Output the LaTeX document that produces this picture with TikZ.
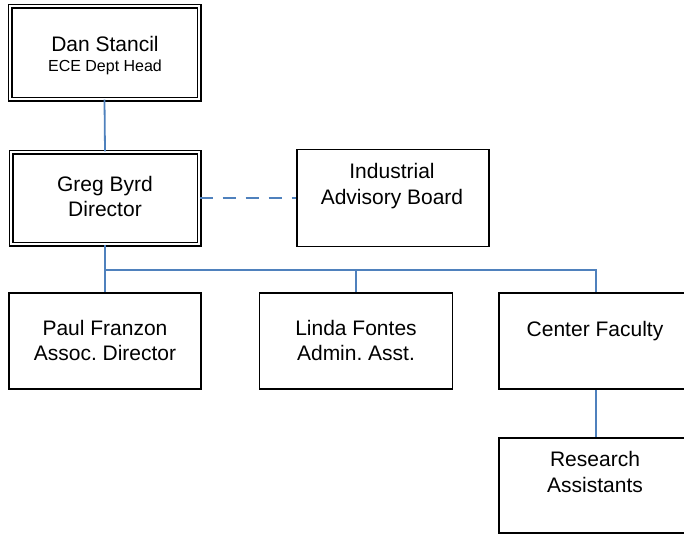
\documentclass[tikz,border=0pt]{standalone}
\usepackage{fontspec}
\setmainfont{Liberation Sans}
\frenchspacing
\definecolor{linkblue}{RGB}{79,129,189}
\begin{document}
\begin{tikzpicture}[x=1pt,y=-1pt,
  box/.style={draw=black,line width=1.5pt,rectangle,inner sep=0pt},
  dbox/.style={draw=black,line width=1.4pt,double,double distance=2.2pt,rectangle,inner sep=0pt},
  txt/.style={anchor=base,inner sep=0pt,font=\fontsize{21}{25}\selectfont},
  small/.style={anchor=base,inner sep=0pt,font=\fontsize{16}{19}\selectfont},
  link/.style={draw=linkblue,line width=1.8pt},
  dlink/.style={draw=linkblue,line width=1.8pt,dash pattern=on 13pt off 10pt}]
\useasboundingbox (0,0) rectangle (684,533);
\clip (0,0) rectangle (684,533);
% boxes
\node[dbox,minimum width=189,minimum height=93] (dan) at (104.5,52.5) {};
\node[dbox,minimum width=188,minimum height=92] (greg) at (105,198) {};
\node[box,minimum width=192,minimum height=97] (iab) at (393,198) {};
\node[box,minimum width=192,minimum height=96] (paul) at (105,341) {};
\node[box,minimum width=193,minimum height=96] (linda) at (356,341) {};
\node[box,minimum width=194,minimum height=96] (cf) at (596,341) {};
\node[box,minimum width=194,minimum height=95] (ra) at (596,485.5) {};
% texts
\node[txt] (t1) at (105,51) {Dan Stancil};
\node[small] (t2) at (105,71) {ECE Dept Head};
\node[txt] (t3) at (105,191) {Greg Byrd};
\node[txt] (t4) at (105,216.7) {Director};
\node[txt] (t5) at (392,178.3) {Industrial};
\node[txt] (t6) at (392,204) {Advisory Board};
\node[txt] (t7) at (105,335) {Paul Franzon};
\node[txt] (t8) at (105,360.7) {Assoc. Director};
\node[txt] (t9) at (356,335) {Linda Fontes};
\node[txt] (t10) at (356,360.7) {Admin. Asst.};
\node[txt] (t11) at (595,336) {Center Faculty};
\node[txt] (t12) at (595,466.7) {Research};
\node[txt] (t13) at (595,492.3) {Assistants};
% connectors
\coordinate (bus) at (105,270);
\draw[link] (dan.south) -- (greg.north);
\draw[dlink] (greg.east) -- (iab.west);
\draw[link] (greg.south) -- (paul.north);
\draw[link] (bus) -| (linda.north);
\draw[link] (bus) -| (cf.north);
\draw[link] (cf.south) -- (ra.north);
\end{tikzpicture}
\end{document}
